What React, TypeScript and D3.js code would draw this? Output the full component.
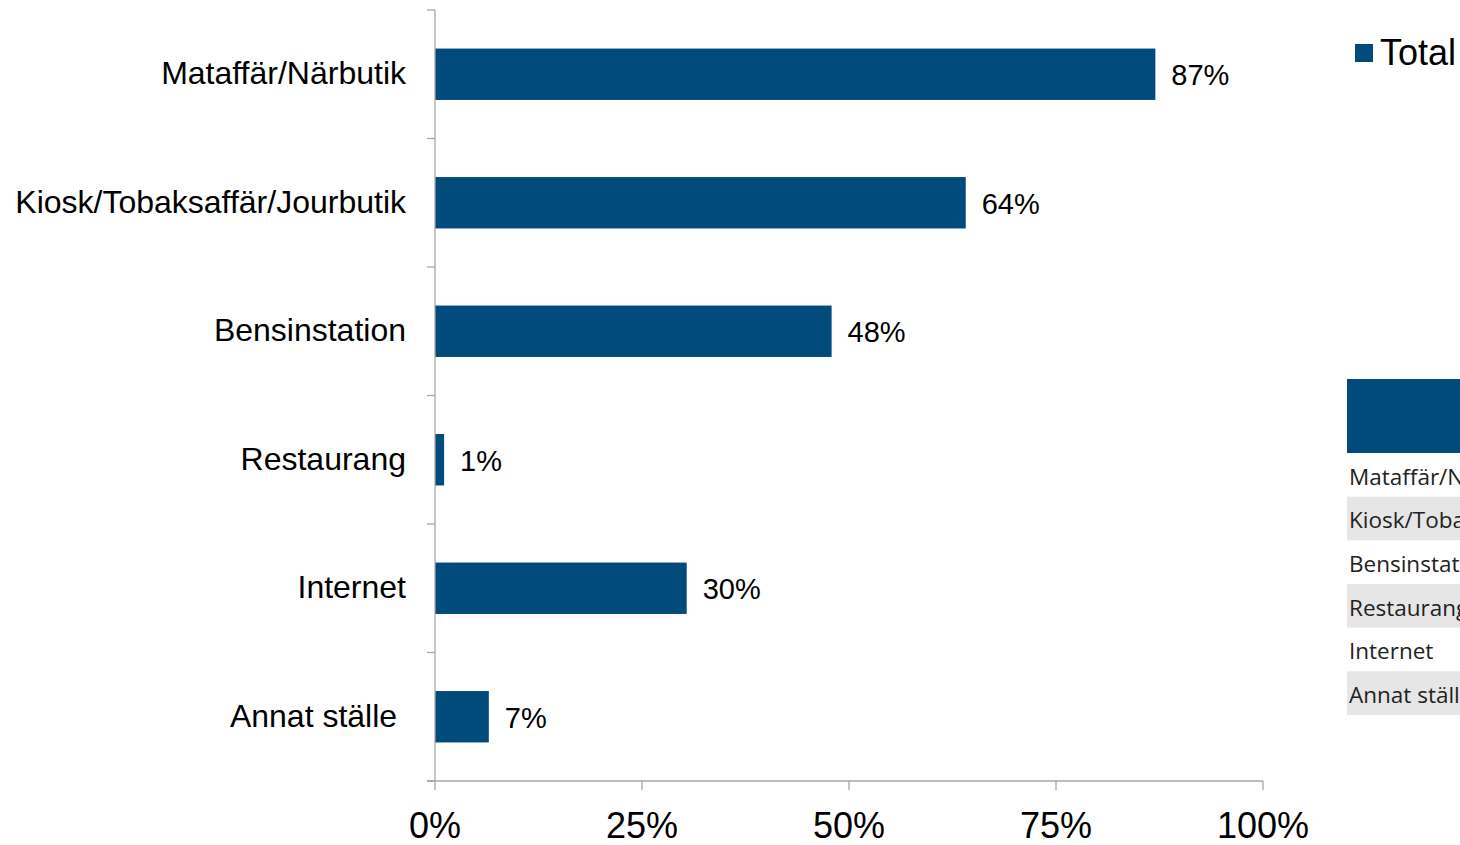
import React from "react";
import * as d3 from "d3";

const categories = ["Mataffär/Närbutik", "Kiosk/Tobaksaffär/Jourbutik", "Bensinstation", "Restaurang", "Internet", "Annat ställe "];
const values = [87, 64.1, 47.9, 1.1, 30.4, 6.5];
const valueLabels = ["87%", "64%", "48%", "1%", "30%", "7%"];
const xTicks = [0, 25, 50, 75, 100];
const seriesName = "Total";
const tableRows = ["Mataffär/Närbutik", "Kiosk/Tobaksaffär/Jourbutik", "Bensinstation", "Restaurang", "Internet", "Annat ställe"];

const BLUE = "#014a7c";
const AXIS = "#a6a6a6";
const FONT = "'Liberation Sans', Arial, sans-serif";

export default function App() {
  const W = 1460, H = 845;
  const left = 435, right = 1263, top = 10, bottom = 781;
  const x = d3.scaleLinear().domain([0, 100]).range([left, right]);
  const y = d3.scaleBand<string>().domain(categories).range([top, bottom]).paddingInner(0.6).paddingOuter(0.3);
  const band = d3.scaleBand<string>().domain(categories).range([top, bottom]);
  const rowY = d3.scaleBand<string>().domain(tableRows).range([453, 715]);

  return (
    <svg width={W} height={H} style={{ position: "absolute", left: 0, top: 0, background: "#fff" }}>
      {/* bars */}
      {categories.map((c, i) => (
        <g key={c}>
          <rect x={x(0)} y={y(c)!} width={x(values[i]) - x(0)} height={y.bandwidth()} fill={BLUE} />
          <text x={x(values[i]) + 16} y={y(c)! + y.bandwidth() / 2 + 1} dy="0.35em" fontFamily={FONT} fontSize={29} fill="#000">
            {valueLabels[i]}
          </text>
          <text x={406} y={band(c)! + band.bandwidth() / 2 - 1} dy="0.35em" textAnchor="end" fontFamily={FONT} fontSize={32} fill="#000" style={{ whiteSpace: "pre" }}>
            {c}
          </text>
        </g>
      ))}
      {/* y axis */}
      <line x1={left} x2={left} y1={top} y2={bottom} stroke={AXIS} strokeWidth={1.3} />
      {d3.range(categories.length + 1).map((k) => {
        const yy = top + k * band.step();
        return <line key={k} x1={left - 8} x2={left} y1={yy} y2={yy} stroke={AXIS} strokeWidth={1.3} />;
      })}
      {/* x axis */}
      <line x1={left - 8} x2={right} y1={bottom} y2={bottom} stroke={AXIS} strokeWidth={1.3} />
      {xTicks.map((t) => (
        <g key={t}>
          <line x1={x(t)} x2={x(t)} y1={bottom} y2={bottom + 9} stroke={AXIS} strokeWidth={1.3} />
          <text x={x(t)} y={838} textAnchor="middle" fontFamily={FONT} fontSize={36} fill="#000">
            {t}%
          </text>
        </g>
      ))}
      {/* legend */}
      <rect x={1355} y={44} width={18} height={18} fill={BLUE} />
      <text x={1380} y={65} fontFamily={FONT} fontSize={36} fill="#000">{seriesName}</text>
      {/* data table */}
      <rect x={1347} y={379} width={200} height={74} fill={BLUE} />
      {tableRows.map((r, i) => (
        <g key={r}>
          {i % 2 === 1 && <rect x={1347} y={rowY(r)!} width={200} height={rowY.bandwidth()} fill="#e6e6e6" />}
          <text x={1349} y={rowY(r)! + rowY.bandwidth() / 2 + 2} dy="0.35em" fontFamily="'Open Sans', 'Noto Sans', sans-serif" fontSize={22.5} fill="#222">
            {r}
          </text>
        </g>
      ))}
    </svg>
  );
}
